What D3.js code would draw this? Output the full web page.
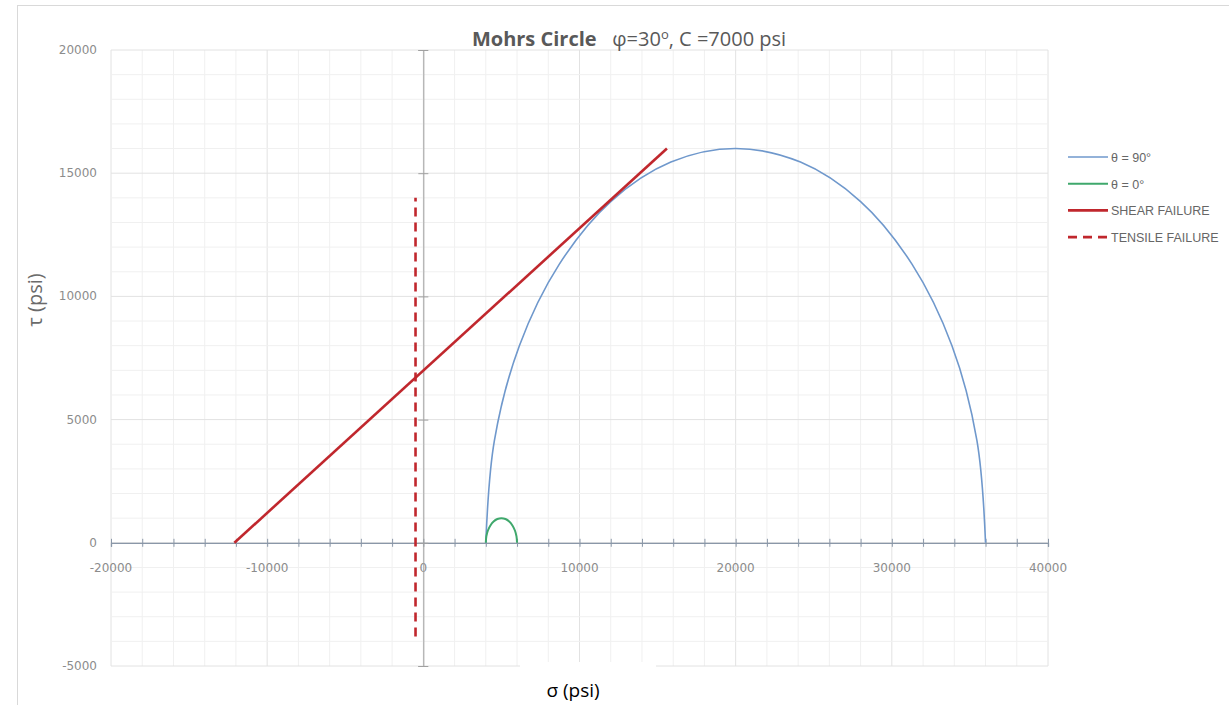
<!DOCTYPE html>
<html>
<head>
<meta charset="utf-8">
<script src="https://cdn.jsdelivr.net/npm/d3@7"></script>
<style>
  body { margin: 0; background: #fff; }
  svg { display: block; }
</style>
</head>
<body>
<div id="chart"></div>
<script>
// Mohr circle theta = 90 (points every 15 deg)
const sigma90 = [4000, 4550, 6150, 8700, 12000, 15850, 20000, 24150, 28000, 31300, 33850, 35450, 36000];
const tau90 = [0, 4150, 8000, 11300, 13850, 15450, 16000, 15450, 13850, 11300, 8000, 4150, 0];

// Mohr circle theta = 0
const sigma0 = [4000, 4035, 4135, 4295, 4500, 4740, 5000, 5260, 5500, 5705, 5865, 5965, 6000];
const tau0 = [0, 260, 500, 705, 865, 965, 1000, 965, 865, 705, 500, 260, 0];

// failure envelopes
const sigmaShear = [-12100, 15600];
const tauShear = [0, 16000];
const sigmaTensile = [-500, -500];
const tauTensile = [-3800, 14000];

const xTicks = [-20000, -10000, 0, 10000, 20000, 30000, 40000];
const yTicks = [-5000, 0, 5000, 10000, 15000, 20000];
const legendLabels = ["\u03b8 = 90\u00b0", "\u03b8 = 0\u00b0", "SHEAR FAILURE", "TENSILE FAILURE"];

const width = 1229;
const height = 705;

const svg = d3.select("#chart")
    .append("svg")
    .attr("width", width)
    .attr("height", height);

// cadre du graphique
svg.append("rect")
    .attr("x", 17.5).attr("y", 5.5)
    .attr("width", 1240).attr("height", 720)
    .attr("fill", "#fff")
    .attr("stroke", "#d9d9d9");

const x = d3.scaleLinear().domain([-20000, 40000]).range([111, 1048]);
const y = d3.scaleLinear().domain([-5000, 20000]).range([666, 50]);

// grille
const grid = svg.append("g");
grid.selectAll("line.v")
    .data(d3.range(-20000, 40001, 2000))
    .join("line")
    .attr("x1", d => x(d)).attr("x2", d => x(d))
    .attr("y1", y(20000)).attr("y2", y(-5000))
    .attr("stroke", d => d % 10000 === 0 ? "#e2e2e2" : "#f0f0f0");
grid.selectAll("line.h")
    .data(d3.range(-5000, 20001, 1000))
    .join("line")
    .attr("y1", d => y(d)).attr("y2", d => y(d))
    .attr("x1", x(-20000)).attr("x2", x(40000))
    .attr("stroke", d => d % 5000 === 0 ? "#e2e2e2" : "#f0f0f0");

// axe X (passe par tau = 0)
const xAxis = svg.append("g")
    .attr("transform", `translate(0,${y(0)})`)
    .call(d3.axisBottom(x).tickValues(d3.range(-20000, 40001, 2000)).tickSize(4).tickFormat(""));
xAxis.select(".domain").attr("stroke", "#8a97a8").attr("stroke-width", 1.3);
xAxis.selectAll(".tick line").attr("stroke", "#8a97a8").attr("y1", -4);

svg.append("g").selectAll("text")
    .data(xTicks)
    .join("text")
    .attr("x", d => x(d))
    .attr("y", y(0) + 29)
    .attr("text-anchor", "middle")
    .attr("fill", "#8c8c8c")
    .style("font-family", "DejaVu Sans")
    .style("font-size", "12px")
    .text(d => d);

// axe Y (passe par sigma = 0)
const yAxis = svg.append("g")
    .attr("transform", `translate(${x(0)},0)`)
    .call(d3.axisLeft(y).tickValues(yTicks).tickSize(5).tickFormat(""));
yAxis.select(".domain").attr("stroke", "#a0a0a0");
yAxis.selectAll(".tick line").attr("stroke", "#a0a0a0").attr("x2", 5).attr("x1", -5);

svg.append("g").selectAll("text")
    .data(yTicks)
    .join("text")
    .attr("x", 97)
    .attr("y", d => y(d) + 4)
    .attr("text-anchor", "end")
    .attr("fill", "#8c8c8c")
    .style("font-family", "DejaVu Sans")
    .style("font-size", "12px")
    .text(d => d);

// courbes
const line = d3.line()
    .x(d => x(d[0]))
    .y(d => y(d[1]));

svg.append("path")
    .datum(d3.zip(sigma90, tau90))
    .attr("d", line.curve(d3.curveCatmullRom.alpha(0.5)))
    .attr("fill", "none")
    .attr("stroke", "#6f98cc")
    .attr("stroke-width", 1.6);

svg.append("path")
    .datum(d3.zip(sigma0, tau0))
    .attr("d", line.curve(d3.curveCatmullRom.alpha(0.5)))
    .attr("fill", "none")
    .attr("stroke", "#3fa86c")
    .attr("stroke-width", 2);

svg.append("path")
    .datum(d3.zip(sigmaShear, tauShear))
    .attr("d", line.curve(d3.curveLinear))
    .attr("fill", "none")
    .attr("stroke", "#c0272d")
    .attr("stroke-width", 2.6);

svg.append("path")
    .datum(d3.zip(sigmaTensile, tauTensile))
    .attr("d", line.curve(d3.curveLinear))
    .attr("fill", "none")
    .attr("stroke", "#c0272d")
    .attr("stroke-width", 2.6)
    .attr("stroke-dasharray", "9,6");

// titre
const title = svg.append("text")
    .attr("x", 629)
    .attr("y", 46)
    .attr("text-anchor", "middle")
    .attr("fill", "#595959")
    .style("font-family", "Open Sans")
    .style("font-size", "20px");
title.append("tspan").style("font-weight", "bold").text("Mohrs Circle");
title.append("tspan").text("\u00a0\u00a0\u00a0\u03c6=30");
title.append("tspan").attr("dy", -7).style("font-size", "13px").text("o");
title.append("tspan").attr("dy", 7).text(", C =7000 psi");

// titre axe Y
svg.append("text")
    .attr("transform", "translate(42,300) rotate(-90)")
    .attr("text-anchor", "middle")
    .attr("fill", "#6b6b6b")
    .style("font-family", "Open Sans")
    .style("font-size", "20px")
    .text("\u03c4 (psi)");

// étiquette axe X sur fond blanc
svg.append("rect")
    .attr("x", 520).attr("y", 662)
    .attr("width", 136).attr("height", 50)
    .attr("fill", "#fff");
svg.append("text")
    .attr("x", 573)
    .attr("y", 697)
    .attr("text-anchor", "middle")
    .attr("fill", "#000")
    .style("font-family", "Open Sans")
    .style("font-size", "19px")
    .text("\u03c3 (psi)");

// légende
const legendColors = ["#6f98cc", "#3fa86c", "#c0272d", "#c0272d"];
const legendWidths = [1.6, 2, 2.6, 2.6];
const legendDash = [null, null, null, "9,6"];
const legend = svg.append("g");
legendLabels.forEach((lab, i) => {
    const ly = 157 + i * 26.7;
    legend.append("line")
        .attr("x1", 1068).attr("x2", 1108)
        .attr("y1", ly).attr("y2", ly)
        .attr("stroke", legendColors[i])
        .attr("stroke-width", legendWidths[i])
        .attr("stroke-dasharray", legendDash[i]);
    legend.append("text")
        .attr("x", 1111)
        .attr("y", ly + 5)
        .attr("fill", "#666")
        .style("font-family", "Liberation Sans")
        .style("font-size", "12.5px")
        .text(lab);
});
</script>
</body>
</html>
